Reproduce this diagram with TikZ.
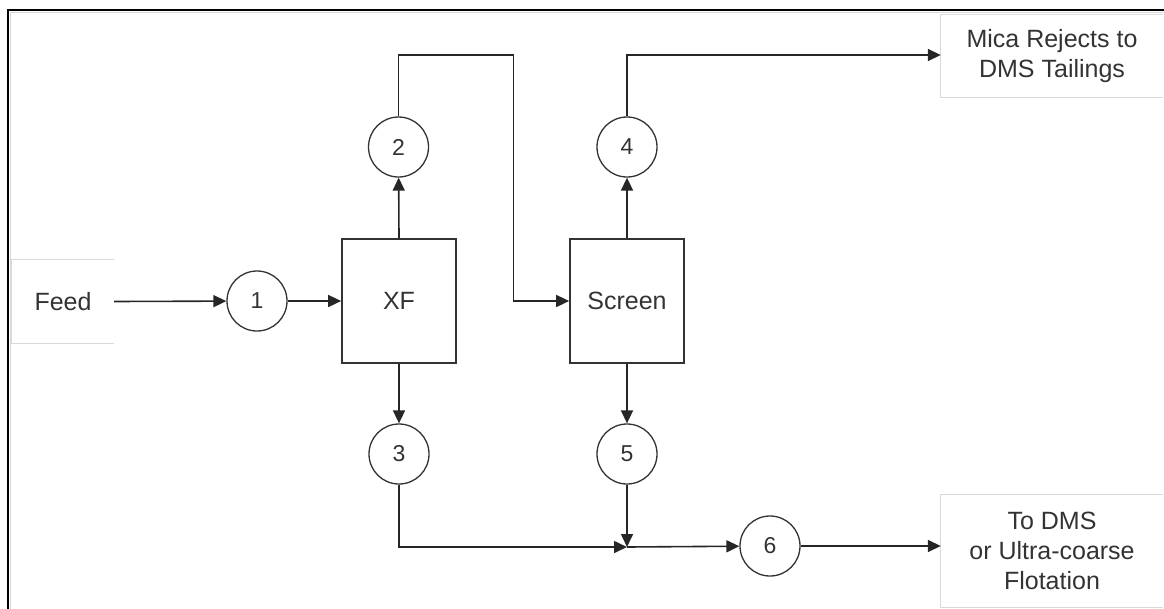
\documentclass[tikz,border=0pt]{standalone}
\usepackage{fontspec}
\setmainfont{Liberation Sans}
\usetikzlibrary{arrows.meta,calc}
\begin{document}
\begin{tikzpicture}[x=1pt,y=-1pt,
  every node/.style={font=\fontsize{25}{30}\selectfont, text=black!80},
  unit/.style={draw=black!80, line width=1.7pt, minimum width=114pt, minimum height=124pt, inner sep=0pt},
  stream/.style={draw=black!80, line width=1.3pt, circle, minimum size=60pt, inner sep=0pt,
    font=\fontsize{23}{28}\selectfont},
  terminal/.style={inner sep=0pt, align=center},
  open box/.style={draw=black!15, line width=1.2pt},
  flow/.style={draw=black!85, line width=1.6pt, -{Triangle[length=13pt,width=12pt]}}
]
\useasboundingbox (0,0) rectangle (1164,608);

% outer frame (only left and top edges fall inside the page)
\draw[black!15, line width=1pt] (10.5,640) |- (1200,12.5);
\draw[black, line width=2pt] (8,640) |- (1200,10);

% terminals: boxes open on their right side
\node[terminal, minimum width=102pt, minimum height=83pt] (feed) at (63,301.5) {Feed};
\node[terminal, minimum width=222pt, minimum height=82pt] (mica) at (1052,56) {Mica Rejects to\\DMS Tailings};
\node[terminal, minimum width=222pt, minimum height=112pt] (dms) at (1052,551) {To DMS\\or Ultra-coarse\\Flotation};
\foreach \b in {feed,mica,dms}
  \draw[open box] (\b.north east) -- (\b.north west) -- (\b.south west) -- (\b.south east);

% process units
\node[unit] (xf) at (399,301) {XF};
\node[unit] (screen) at (627,301) {Screen};

% stream numbers
\node[stream] (s1) at (257,301) {1};
\node[stream] (s2) at (398.5,147) {2};
\node[stream] (s3) at (399,454) {3};
\node[stream] (s4) at (627,147) {4};
\node[stream] (s5) at (627,454) {5};
\node[stream] (s6) at (770,546) {6};

\coordinate (t2) at (513.5,55);
\coordinate (j) at (627,547);

% connectors
\draw[flow] (feed.east) -- (s1);
\draw[flow] (s1) -- (xf);
\draw[flow] (xf.north) -- (s2);
\draw[flow] (s2.north) |- (t2) -- (t2 |- screen.west) -- (screen.west);
\draw[flow] (screen.north) -- (s4);
\draw[flow] (s4.north) |- (mica.west |- t2);
\draw[flow] (xf.south) -- (s3);
\draw[flow] (screen.south) -- (s5);
\draw[flow] (s3.south) |- (j);
\draw[flow] (s5.south) -- (j);
\draw[flow] (j) -- (s6);
\draw[flow] (s6) -- (s6 -| dms.west);
\end{tikzpicture}
\end{document}
